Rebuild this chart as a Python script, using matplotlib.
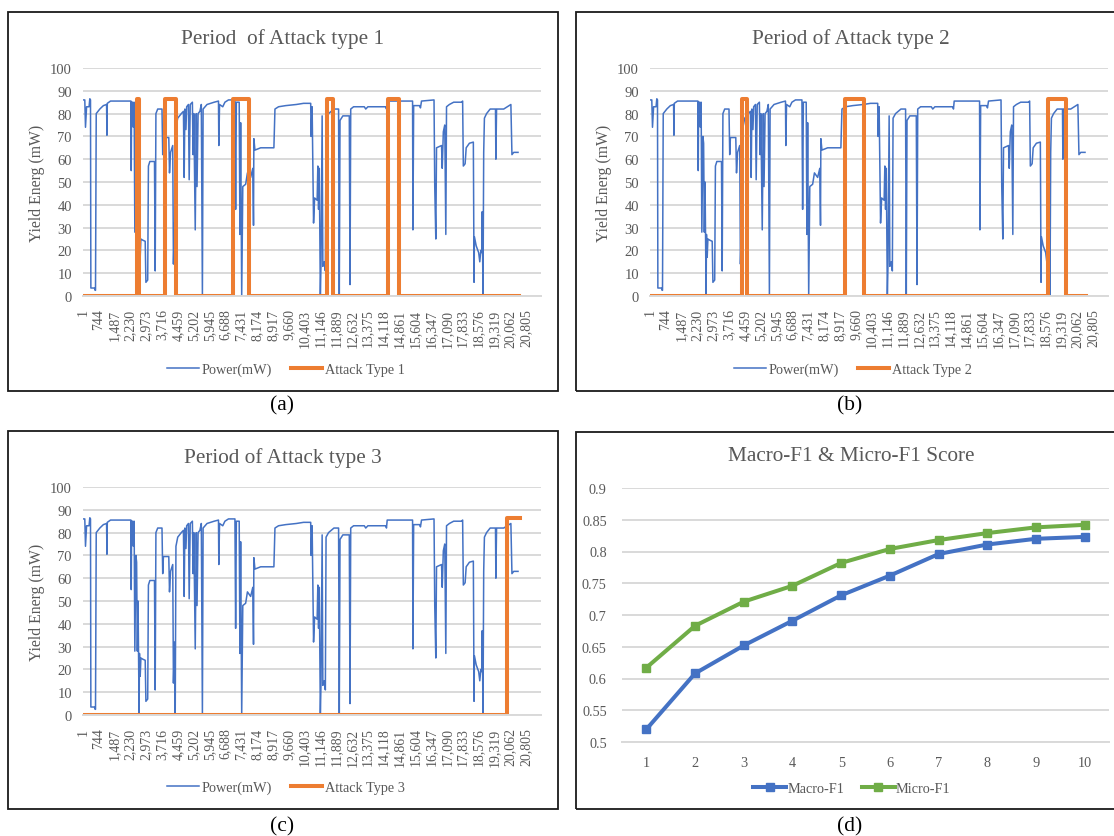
import matplotlib
matplotlib.use('Agg')
import matplotlib.pyplot as plt
from matplotlib.patches import Rectangle
from matplotlib.lines import Line2D

plt.rcParams['font.family'] = ['Liberation Serif', 'DejaVu Serif']

W, H = 1114, 837

# ---------------- data ----------------
# power trace breakpoints (sample index, mW)
power_idx = [1, 84, 117, 168, 285, 319, 352, 369, 537, 570, 587, 621, 789, 956, 1107, 1124,
             1141, 1292, 1795, 2131, 2249, 2265, 2282, 2332, 2366, 2400, 2433, 2483, 2517,
             2550, 2584, 2618, 2634, 2651, 2685, 2718, 2802, 2920, 2953, 3037, 3071, 3138,
             3356, 3389, 3423, 3507, 3708, 3742, 3775, 4027, 4061, 4111, 4212, 4245, 4296,
             4329, 4363, 4447, 4615, 4715, 4749, 4782, 4833, 4866, 4950, 4984, 5034, 5135,
             5168, 5202, 5269, 5319, 5353, 5403, 5487, 5554, 5605, 5638, 5823, 6158, 6360,
             6376, 6410, 6561, 6662, 6829, 7132, 7165, 7199, 7333, 7366, 7400, 7450, 7501,
             7635, 7719, 7870, 7971, 8004, 8021, 8071, 8340, 8961, 9011, 9179, 9514, 10018,
             10353, 10689, 10706, 10756, 10823, 10873, 10991, 11024, 11058, 11092, 11142,
             11175, 11226, 11259, 11326, 11377, 11410, 11528, 11780, 11998, 12031, 12065,
             12199, 12501, 12535, 12568, 12702, 13206, 13273, 13374, 14213, 14246, 14280,
             15471, 15488, 15522, 15807, 15841, 15891, 16478, 16512, 16562, 16596, 16831,
             16864, 16915, 16982, 17032, 17065, 17200, 17401, 17770, 17821, 17854, 17938,
             17988, 18139, 18324, 18357, 18374, 18458, 18575, 18626, 18676, 18726, 18743,
             18777, 18810, 18844, 18945, 19113, 19364, 19381, 19414, 19750, 19918, 20086,
             20136, 20220, 20421]
power_val = [86, 86, 74, 83, 83, 86.5, 86, 3.5, 3.5, 2.5, 2.5, 80, 82, 83.5, 84, 70.5,
             84.5, 85.5, 85.5, 85.5, 85.5, 55, 85, 85, 74, 85, 28, 70, 67,
             28, 50, 14, 0, 27, 17, 25, 24.5, 24, 6, 7, 57, 59,
             59, 11, 80, 82, 82, 62, 69.5, 69.5, 54, 63, 66, 14, 32,
             0, 74, 78, 80, 81, 52, 82, 73, 83, 84, 51, 84, 85,
             62, 80, 29, 80, 48, 80, 81, 84, 0, 82, 84, 85, 85.5,
             66, 84, 83, 85, 86, 86, 38, 85, 85, 27, 76, 0, 48,
             49, 54, 52, 56, 31, 69, 64, 65, 65, 82, 83, 83.5, 84,
             84.5, 84.5, 70, 83, 32, 43, 42, 57, 38, 56, 0,
             15, 79, 13, 15, 11, 78, 80, 82, 82, 0, 77,
             79, 79, 5, 82, 83, 83, 82, 83, 83, 82, 85.5,
             85.5, 29, 83.5, 83.5, 82.5, 85.5, 86, 48, 25, 65, 66,
             56, 72, 75, 27, 83, 84, 85, 85, 85.5, 57, 58,
             65, 67, 67.5, 6, 26, 22, 19, 15, 20, 19, 37,
             0, 63, 78, 80, 82, 82, 60, 82, 82, 83, 84,
             62, 63, 63]

attack_level = 86.5
series_end = 20460
attack1_start = [2517, 3842, 7064, 11444, 14296]
attack1_end = [2634, 4346, 7802, 11746, 14833]
attack2_start = [4328, 9142, 18680]
attack2_end = [4571, 10062, 19550]
attack3_start = [19884]
attack3_end = [20500]

x_tick_first = 1
x_tick_step = 743
x_tick_count = 29

f1_steps = [1, 2, 3, 4, 5, 6, 7, 8, 9, 10]
macro_f1 = [0.520, 0.608, 0.652, 0.691, 0.731, 0.762, 0.796, 0.811, 0.820, 0.823]
micro_f1 = [0.617, 0.683, 0.721, 0.746, 0.782, 0.804, 0.818, 0.829, 0.838, 0.842]

# ---------------- style ----------------
BLUE = '#4472C4'
ORANGE = '#ED7D31'
GREEN = '#70AD47'
GRID = '#D9D9D9'
TXT = '#595959'

fig = plt.figure(figsize=(W / 100, H / 100), dpi=100)


def px_axes(left, top, right, bottom):
    return fig.add_axes([left / W, 1 - bottom / H, (right - left) / W, (bottom - top) / H])


def px_box(left, top, right, bottom):
    fig.patches.append(Rectangle((left / W, 1 - bottom / H), (right - left) / W,
                                 (bottom - top) / H, transform=fig.transFigure,
                                 fill=False, edgecolor='#1a1a1a', linewidth=1.3))


def ftext(x, y, s, **kw):
    fig.text(x / W, 1 - y / H, s, ha='center', va='center', **kw)


def style_axes(ax):
    for side in ['top', 'right', 'left']:
        ax.spines[side].set_visible(False)
    ax.spines['bottom'].set_color(GRID)
    ax.spines['bottom'].set_linewidth(1.4)
    ax.grid(axis='y', color=GRID, linewidth=1.4)
    ax.set_axisbelow(True)
    ax.tick_params(length=0, colors=TXT)
    ax.patch.set_alpha(0)


def attack_path(starts, ends):
    xs, ys = [x_tick_first], [0]
    for s, e in zip(starts, ends):
        xs += [s, s, e]
        ys += [0, attack_level, attack_level]
        if e < series_end:
            xs.append(e)
            ys.append(0)
    if xs[-1] < series_end:
        xs.append(series_end)
        ys.append(0)
    return xs, ys


def power_panel(box, axr, title, title_xy, ylab_xy, leg_xy, lab_xy, lab,
                starts, ends, atk_name):
    px_box(*box)
    ax = px_axes(*axr)
    style_axes(ax)
    ax.plot(power_idx, power_val, color=BLUE, linewidth=1.1)
    xs, ys = attack_path(starts, ends)
    ax.plot(xs, ys, color=ORANGE, linewidth=2.9)
    ax.set_ylim(0, 100)
    ax.set_xlim(0, 21500)
    ax.set_yticks(range(0, 101, 10))
    ticks = [x_tick_first + i * x_tick_step for i in range(x_tick_count)]
    ax.set_xticks(ticks)
    ax.set_xticklabels([f'{t:,}' for t in ticks], rotation=90, fontsize=10, color=TXT)
    ax.tick_params(axis='x', pad=9)
    ax.tick_params(axis='y', labelsize=10.5, pad=8)
    ftext(*title_xy, title, fontsize=15.3, color=TXT)
    ftext(*ylab_xy, 'Yield Energ (mW)', fontsize=11.3, color=TXT, rotation=90)
    handles = [Line2D([], [], color=BLUE, linewidth=1.1),
               Line2D([], [], color=ORANGE, linewidth=2.9)]
    fig.legend(handles, ['Power(mW)', atk_name], loc='center',
               bbox_to_anchor=(leg_xy[0] / W, 1 - leg_xy[1] / H), ncol=2,
               frameon=False, fontsize=10.3, labelcolor=TXT, handlelength=2.2,
               handletextpad=0.2, columnspacing=1.3)
    ftext(*lab_xy, lab, fontsize=15.5, color='black')


power_panel((8, 13, 558, 392), (83, 69, 541, 297), 'Period  of Attack type 1', (283, 39),
            (37, 183), (286, 370), (282, 406), '(a)', attack1_start, attack1_end,
            'Attack Type 1')
power_panel((576, 13, 1125, 392), (650, 69, 1108, 297), 'Period of Attack type 2', (851, 39),
            (604, 183), (853, 370), (850, 406), '(b)', attack2_start, attack2_end,
            'Attack Type 2')
power_panel((8, 432, 558, 810), (83, 488, 541, 716), 'Period of Attack type 3', (283, 458),
            (37, 602), (286, 788), (282, 827), '(c)', attack3_start, attack3_end,
            'Attack Type 3')

# ---------------- panel (d) ----------------
px_box(576, 433, 1125, 810)
axd = px_axes(622, 489, 1109, 743)
style_axes(axd)
axd.plot(f1_steps, macro_f1, color=BLUE, linewidth=2.9, marker='s', markersize=6,
         label='Macro-F1')
axd.plot(f1_steps, micro_f1, color=GREEN, linewidth=2.9, marker='s', markersize=6,
         label='Micro-F1')
axd.set_xlim(0.5, 10.5)
axd.set_ylim(0.5, 0.9)
axd.set_xticks(f1_steps)
axd.set_yticks([0.5, 0.55, 0.6, 0.65, 0.7, 0.75, 0.8, 0.85, 0.9])
axd.set_yticklabels(['0.5', '0.55', '0.6', '0.65', '0.7', '0.75', '0.8', '0.85', '0.9'])
axd.tick_params(axis='both', labelsize=10.3)
axd.tick_params(axis='y', pad=11)
axd.tick_params(axis='x', pad=10)
ftext(851, 457, 'Macro-F1 & Micro-F1 Score', fontsize=15.3, color=TXT)
fig.legend(*axd.get_legend_handles_labels(), loc='center',
           bbox_to_anchor=(852 / W, 1 - 789 / H), ncol=2, frameon=False, fontsize=10.3,
           labelcolor=TXT, handlelength=2.3, handletextpad=0.1, columnspacing=1.2)
ftext(850, 827, '(d)', fontsize=15.5, color='black')

fig.savefig('out.png', dpi=100)
